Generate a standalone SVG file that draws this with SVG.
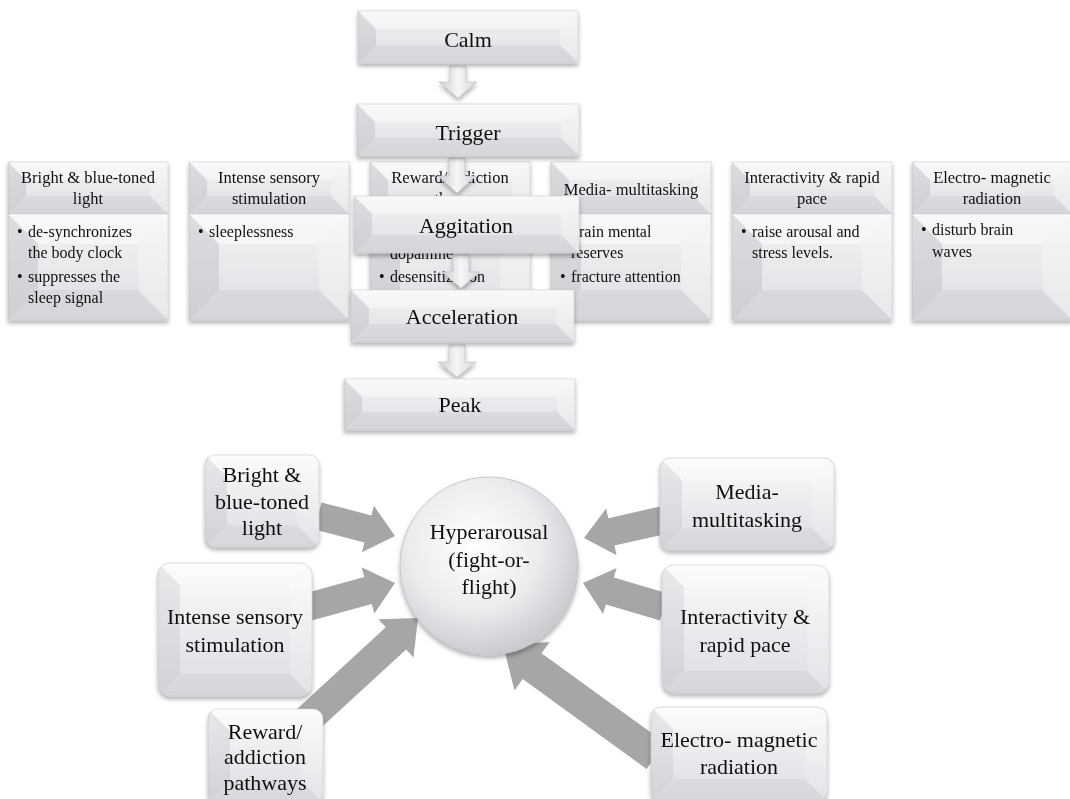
<svg xmlns="http://www.w3.org/2000/svg" width="1070" height="799" viewBox="0 0 1070 799">
<defs>
<linearGradient id="gBox" x1="0" y1="0" x2="0" y2="1">
<stop offset="0" stop-color="#f4f4f6"/><stop offset="1" stop-color="#dedee3"/>
</linearGradient>
<linearGradient id="gRound" x1="0" y1="0" x2="0" y2="1">
<stop offset="0" stop-color="#fbfbfc"/><stop offset="1" stop-color="#dcdce2"/>
</linearGradient>
<linearGradient id="gArr" x1="0" y1="0" x2="1" y2="0">
<stop offset="0" stop-color="#cdcdd2"/><stop offset="0.5" stop-color="#f6f6f8"/><stop offset="1" stop-color="#d5d5da"/>
</linearGradient>
<radialGradient id="gCirc" cx="0.42" cy="0.38" r="0.62">
<stop offset="0" stop-color="#ffffff"/><stop offset="0.6" stop-color="#ececef"/><stop offset="1" stop-color="#cbcbd0"/>
</radialGradient>
<filter id="sh" x="-10%" y="-10%" width="125%" height="135%">
<feDropShadow dx="0" dy="3" stdDeviation="2" flood-color="#000" flood-opacity="0.3"/>
</filter>
<clipPath id="rr" clipPathUnits="objectBoundingBox"><rect width="1" height="1" rx="0.08" ry="0.1"/></clipPath>
<g id="colHead">
<rect class="bx" width="160" height="52"/>
<polygon class="bt" points="0,0 160,0 142,18 18,18"/>
<polygon class="bl" points="0,0 18,18 18,34 0,52"/>
<polygon class="br" points="160,0 142,18 142,34 160,52"/>
<polygon class="bb" points="0,52 18,34 142,34 160,52"/>
</g>
<g id="colBody">
<rect class="bx" width="160" height="106"/>
<polygon class="bt" points="0,0 160,0 130,30 30,30"/>
<polygon class="bl" points="0,0 30,30 30,76 0,106"/>
<polygon class="br" points="160,0 130,30 130,76 160,106"/>
<polygon class="bb" points="0,106 30,76 130,76 160,106"/>
</g>
</defs>
<style>
.bx{fill:url(#gBox);stroke:#c8c8cd;stroke-width:0.7}
.rb{fill:url(#gRound);stroke:#cacad0;stroke-width:0.7}
.bt{fill:#ffffff;opacity:0.4}
.bl{fill:#a9a9b0;opacity:0.3}
.br{fill:#ffffff;opacity:0.3}
.bb{fill:#b4b4ba;opacity:0.22}
.da{fill:url(#gArr);stroke:#bdbdc2;stroke-width:0.6}
.ga{fill:#a6a6a6}
.t22{font-family:"Liberation Serif","Times New Roman",serif;font-size:22px;fill:#111;text-anchor:middle}
.h16{font-family:"Liberation Serif","Times New Roman",serif;font-size:16.5px;fill:#111;text-anchor:middle}
.b16{font-family:"Liberation Serif","Times New Roman",serif;font-size:16px;fill:#111}
</style>
<rect width="1070" height="799" fill="#ffffff"/>

<!-- column boxes -->
<g id="col-bright" filter="url(#sh)">
<use href="#colHead" x="8" y="162"/><use href="#colBody" x="8" y="214"/>
<text class="h16" x="88" y="183">Bright &amp; blue-toned</text>
<text class="h16" x="88" y="204">light</text>
<text class="b16" x="17" y="237">•</text><text class="b16" x="28" y="237">de-synchronizes</text>
<text class="b16" x="28" y="258">the body clock</text>
<text class="b16" x="17" y="282">•</text><text class="b16" x="28" y="282">suppresses the</text>
<text class="b16" x="28" y="303">sleep signal</text>
</g>
<g id="col-intense" filter="url(#sh)">
<use href="#colHead" x="189" y="162"/><use href="#colBody" x="189" y="214"/>
<text class="h16" x="269" y="183">Intense sensory</text>
<text class="h16" x="269" y="204">stimulation</text>
<text class="b16" x="198" y="237">•</text><text class="b16" x="209" y="237">sleeplessness</text>
</g>
<g id="col-reward" filter="url(#sh)">
<use href="#colHead" x="370" y="162"/><use href="#colBody" x="370" y="214"/>
<text class="h16" x="450" y="183">Reward/addiction</text>
<text class="h16" x="450" y="204">pathways</text>
<text class="b16" x="390" y="259">dopamine</text>
<text class="b16" x="379" y="282">•</text><text class="b16" x="390" y="282">desensitization</text>
</g>
<g id="col-media" filter="url(#sh)">
<use href="#colHead" x="551" y="162"/><use href="#colBody" x="551" y="214"/>
<text class="h16" x="631" y="195">Media- multitasking</text>
<text class="b16" x="560" y="237">•</text><text class="b16" x="571" y="237">drain mental</text>
<text class="b16" x="571" y="258">reserves</text>
<text class="b16" x="560" y="282">•</text><text class="b16" x="571" y="282">fracture attention</text>
</g>
<g id="col-interactivity" filter="url(#sh)">
<use href="#colHead" x="732" y="162"/><use href="#colBody" x="732" y="214"/>
<text class="h16" x="812" y="183">Interactivity &amp; rapid</text>
<text class="h16" x="812" y="204">pace</text>
<text class="b16" x="741" y="237">•</text><text class="b16" x="752" y="237">raise arousal and</text>
<text class="b16" x="752" y="258">stress levels.</text>
</g>
<g id="col-electro" filter="url(#sh)">
<use href="#colHead" x="912" y="162"/><use href="#colBody" x="912" y="214"/>
<text class="h16" x="992" y="183">Electro- magnetic</text>
<text class="h16" x="992" y="204">radiation</text>
<text class="b16" x="921" y="235">•</text><text class="b16" x="932" y="235">disturb brain</text>
<text class="b16" x="932" y="257">waves</text>
</g>

<!-- flow connectors -->
<g id="flow-connectors" filter="url(#sh)">
<polygon class="da" points="450,66 466,66 466,82 477,82 458,98 439,82 450,82"/>
<polygon class="da" points="449,158 465,158 465,176 476,176 457,193 438,176 449,176"/>
<polygon class="da" points="453,255 469,255 469,272 480,272 461,288 442,272 453,272"/>
<polygon class="da" points="449,345 465,345 465,362 476,362 457,377 438,362 449,362"/>
</g>

<!-- flow nodes -->
<g id="calm" filter="url(#sh)" transform="translate(358,11)">
<rect class="bx" width="220" height="52"/>
<polygon class="bt" points="0,0 220,0 202,18 18,18"/>
<polygon class="bl" points="0,0 18,18 18,34 0,52"/>
<polygon class="br" points="220,0 202,18 202,34 220,52"/>
<polygon class="bb" points="0,52 18,34 202,34 220,52"/>
<text class="t22" x="110" y="36">Calm</text>
</g>
<g id="trigger" filter="url(#sh)" transform="translate(357,104)">
<rect class="bx" width="222" height="52"/>
<polygon class="bt" points="0,0 222,0 204,18 18,18"/>
<polygon class="bl" points="0,0 18,18 18,34 0,52"/>
<polygon class="br" points="222,0 204,18 204,34 222,52"/>
<polygon class="bb" points="0,52 18,34 204,34 222,52"/>
<text class="t22" x="111" y="36">Trigger</text>
</g>
<g id="aggitation" filter="url(#sh)" transform="translate(354,196)">
<rect class="bx" width="225" height="57"/>
<polygon class="bt" points="0,0 225,0 207,18 18,18"/>
<polygon class="bl" points="0,0 18,18 18,39 0,57"/>
<polygon class="br" points="225,0 207,18 207,39 225,57"/>
<polygon class="bb" points="0,57 18,39 207,39 225,57"/>
<text class="t22" x="112" y="37">Aggitation</text>
</g>
<g id="acceleration" filter="url(#sh)" transform="translate(351,290)">
<rect class="bx" width="223" height="52"/>
<polygon class="bt" points="0,0 223,0 205,18 18,18"/>
<polygon class="bl" points="0,0 18,18 18,34 0,52"/>
<polygon class="br" points="223,0 205,18 205,34 223,52"/>
<polygon class="bb" points="0,52 18,34 205,34 223,52"/>
<text class="t22" x="111" y="34">Acceleration</text>
</g>
<g id="peak" filter="url(#sh)" transform="translate(344,379)">
<rect class="bx" width="231" height="51"/>
<polygon class="bt" points="0,0 231,0 213,18 18,18"/>
<polygon class="bl" points="0,0 18,18 18,33 0,51"/>
<polygon class="br" points="231,0 213,18 213,33 231,51"/>
<polygon class="bb" points="0,51 18,33 213,33 231,51"/>
<text class="t22" x="116" y="33">Peak</text>
</g>

<!-- bottom connectors -->
<g id="connectors">
<polygon class="ga" points="321.5,502.4 371.4,515.4 373.9,505.7 395,536 361.9,552.2 364.4,542.5 314.5,529.6"/>
<polygon class="ga" points="304.3,593.5 364.3,577 361.6,567.3 395,583 374.4,613.6 371.7,603.9 311.7,620.5"/>
<polygon class="ga" points="294.8,711 385.8,627.3 378.3,619.2 418,618 413.5,657.4 406.1,649.4 315.2,733"/>
<polygon class="ga" points="667.1,533.7 614.4,545.5 616.6,555.3 584,538 606.1,508.4 608.3,518.2 660.9,506.3"/>
<polygon class="ga" points="660,620.4 605.9,604.4 603,614 583,583 616.7,567.9 613.8,577.5 668,593.6"/>
<polygon class="ga" points="646.6,769 522.7,679.1 514.5,690.4 503,645 549.8,641.9 541.5,653.2 665.4,743"/>
</g>

<!-- central node -->
<g id="hyperarousal" filter="url(#sh)">
<circle cx="489" cy="566" r="89" fill="url(#gCirc)" stroke="#bcbcc2" stroke-width="0.8"/>
<text class="t22" x="489" y="539">Hyperarousal</text>
<text class="t22" x="489" y="567">(fight-or-</text>
<text class="t22" x="489" y="594">flight)</text>
</g>

<!-- bottom rounded nodes -->
<g id="n-bright" filter="url(#sh)" transform="translate(205,455)">
<rect class="rb" width="114" height="92" rx="10"/>
<g clip-path="url(#rr)" opacity="0.7">
<polygon class="bt" points="0,0 114,0 92,22 22,22"/>
<polygon class="bl" points="0,0 22,22 22,70 0,92"/>
<polygon class="br" points="114,0 92,22 92,70 114,92"/>
<polygon class="bb" points="0,92 22,70 92,70 114,92"/>
</g>
<text class="t22" x="57" y="27">Bright &amp;</text>
<text class="t22" x="57" y="54">blue-toned</text>
<text class="t22" x="57" y="80">light</text>
</g>
<g id="n-intense" filter="url(#sh)" transform="translate(158,563)">
<rect class="rb" width="154" height="133" rx="12"/>
<g clip-path="url(#rr)" opacity="0.7">
<polygon class="bt" points="0,0 154,0 132,22 22,22"/>
<polygon class="bl" points="0,0 22,22 22,111 0,133"/>
<polygon class="br" points="154,0 132,22 132,111 154,133"/>
<polygon class="bb" points="0,133 22,111 132,111 154,133"/>
</g>
<text class="t22" x="77" y="61">Intense sensory</text>
<text class="t22" x="77" y="89">stimulation</text>
</g>
<g id="n-reward" filter="url(#sh)" transform="translate(208,709)">
<rect class="rb" width="115" height="94" rx="10"/>
<g clip-path="url(#rr)" opacity="0.7">
<polygon class="bt" points="0,0 115,0 93,22 22,22"/>
<polygon class="bl" points="0,0 22,22 22,72 0,94"/>
<polygon class="br" points="115,0 93,22 93,72 115,94"/>
<polygon class="bb" points="0,94 22,72 93,72 115,94"/>
</g>
<text class="t22" x="57" y="30">Reward/</text>
<text class="t22" x="57" y="55">addiction</text>
<text class="t22" x="57" y="81">pathways</text>
</g>
<g id="n-media" filter="url(#sh)" transform="translate(660,458)">
<rect class="rb" width="174" height="92" rx="10"/>
<g clip-path="url(#rr)" opacity="0.7">
<polygon class="bt" points="0,0 174,0 152,22 22,22"/>
<polygon class="bl" points="0,0 22,22 22,70 0,92"/>
<polygon class="br" points="174,0 152,22 152,70 174,92"/>
<polygon class="bb" points="0,92 22,70 152,70 174,92"/>
</g>
<text class="t22" x="87" y="41">Media-</text>
<text class="t22" x="87" y="69">multitasking</text>
</g>
<g id="n-interactivity" filter="url(#sh)" transform="translate(662,565)">
<rect class="rb" width="167" height="128" rx="12"/>
<g clip-path="url(#rr)" opacity="0.7">
<polygon class="bt" points="0,0 167,0 145,22 22,22"/>
<polygon class="bl" points="0,0 22,22 22,106 0,128"/>
<polygon class="br" points="167,0 145,22 145,106 167,128"/>
<polygon class="bb" points="0,128 22,106 145,106 167,128"/>
</g>
<text class="t22" x="83" y="59">Interactivity &amp;</text>
<text class="t22" x="83" y="87">rapid pace</text>
</g>
<g id="n-electro" filter="url(#sh)" transform="translate(651,707)">
<rect class="rb" width="176" height="94" rx="10"/>
<g clip-path="url(#rr)" opacity="0.7">
<polygon class="bt" points="0,0 176,0 154,22 22,22"/>
<polygon class="bl" points="0,0 22,22 22,72 0,94"/>
<polygon class="br" points="176,0 154,22 154,72 176,94"/>
<polygon class="bb" points="0,94 22,72 154,72 176,94"/>
</g>
<text class="t22" x="88" y="40">Electro- magnetic</text>
<text class="t22" x="88" y="67">radiation</text>
</g>
</svg>
